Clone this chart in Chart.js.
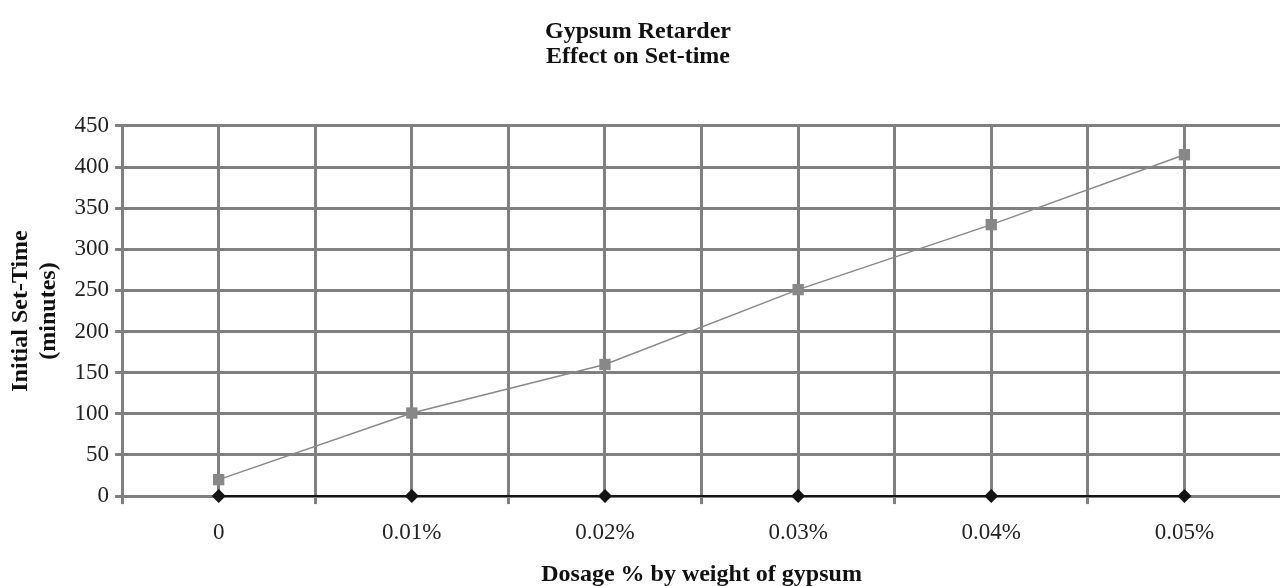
<!DOCTYPE html>
<html>
<head>
<meta charset="utf-8">
<script src="https://cdn.jsdelivr.net/npm/chart.js@4"></script>
<style>
  html, body { margin: 0; padding: 0; background: #fff; overflow: hidden; }
  #wrap { width: 1289px; height: 586px; }
</style>
</head>
<body>
<div id="wrap"><canvas id="setTimeChart" width="1289" height="586"></canvas></div>
<script>
// Dosage categories and readings
const categories = ['0', '0.01%', '0.02%', '0.03%', '0.04%', '0.05%'];
const setTimeValues = [20, 101, 160, 251, 330, 415];
const baselineValues = [0, 0, 0, 0, 0, 0];
const yMin = 0;
const yMax = 450;
const yStep = 50;

const gridColor = 'rgb(128, 128, 128)';
const fontFamily = '"Liberation Serif", "Times New Roman", serif';

function toPoints(values) {
    return values.map((v, i) => ({ x: i, y: v }));
}

const ctx = document.getElementById('setTimeChart');
const mySetTimeChart = new Chart(ctx, {
    type: 'line',
    data: {
        datasets: [{
            label: 'Set time',
            data: toPoints(setTimeValues),
            borderColor: 'rgb(136, 136, 136)',
            backgroundColor: 'rgb(136, 136, 136)',
            borderWidth: 1.5,
            pointStyle: 'rect',
            pointRadius: 8,
            pointHoverRadius: 8,
            pointBorderWidth: 0,
            clip: false
        }, {
            label: 'Baseline',
            data: toPoints(baselineValues),
            borderColor: 'rgb(20, 20, 20)',
            backgroundColor: 'rgb(20, 20, 20)',
            borderWidth: 2,
            pointStyle: 'rectRot',
            pointRadius: 7,
            pointHoverRadius: 7,
            pointBorderWidth: 0,
            clip: false
        }]
    },
    options: {
        responsive: false,
        animation: false,
        layout: {
            // canvas is wider than the window; shift left so the title stays centred
            padding: { top: 0, left: -13, bottom: 0, right: 0 }
        },
        plugins: {
            legend: { display: false },
            tooltip: { enabled: false },
            title: {
                display: true,
                text: ['Gypsum Retarder', 'Effect on Set-time'],
                color: '#111',
                font: { family: fontFamily, size: 24, weight: 'bold', lineHeight: 1.04 },
                padding: { top: 19, bottom: 57 }
            }
        },
        scales: {
            x: {
                type: 'linear',
                min: -0.5,
                max: categories.length - 0.5,
                grid: {
                    color: gridColor,
                    lineWidth: 3,
                    tickLength: 8,
                    tickColor: (c) => (c.tick && Number.isInteger(c.tick.value)) ? 'rgba(0,0,0,0)' : gridColor
                },
                border: { color: gridColor, width: 3 },
                ticks: {
                    stepSize: 0.5,
                    autoSkip: false,
                    maxRotation: 0,
                    padding: 0,
                    color: '#222',
                    font: { family: fontFamily, size: 23, lineHeight: 0.85 },
                    // blank first line pushes the label down without adding side padding
                    callback: (v) => Number.isInteger(v) ? ['', categories[v]] : ''
                },
                title: {
                    display: true,
                    text: 'Dosage % by weight of gypsum',
                    color: '#111',
                    font: { family: fontFamily, size: 24, weight: 'bold', lineHeight: 0.95 },
                    padding: { top: 20, bottom: 0 }
                }
            },
            y: {
                min: yMin,
                max: yMax,
                grid: {
                    color: gridColor,
                    lineWidth: 3,
                    tickLength: 7,
                    tickColor: gridColor
                },
                border: { color: gridColor, width: 3 },
                ticks: {
                    stepSize: yStep,
                    padding: 6,
                    color: '#222',
                    font: { family: fontFamily, size: 23 }
                },
                title: {
                    display: true,
                    text: ['Initial Set-Time', '(minutes)'],
                    color: '#111',
                    font: { family: fontFamily, size: 24, weight: 'bold', lineHeight: 1.2 },
                    padding: { top: 19, bottom: 5 }
                }
            }
        }
    }
});
</script>
</body>
</html>
